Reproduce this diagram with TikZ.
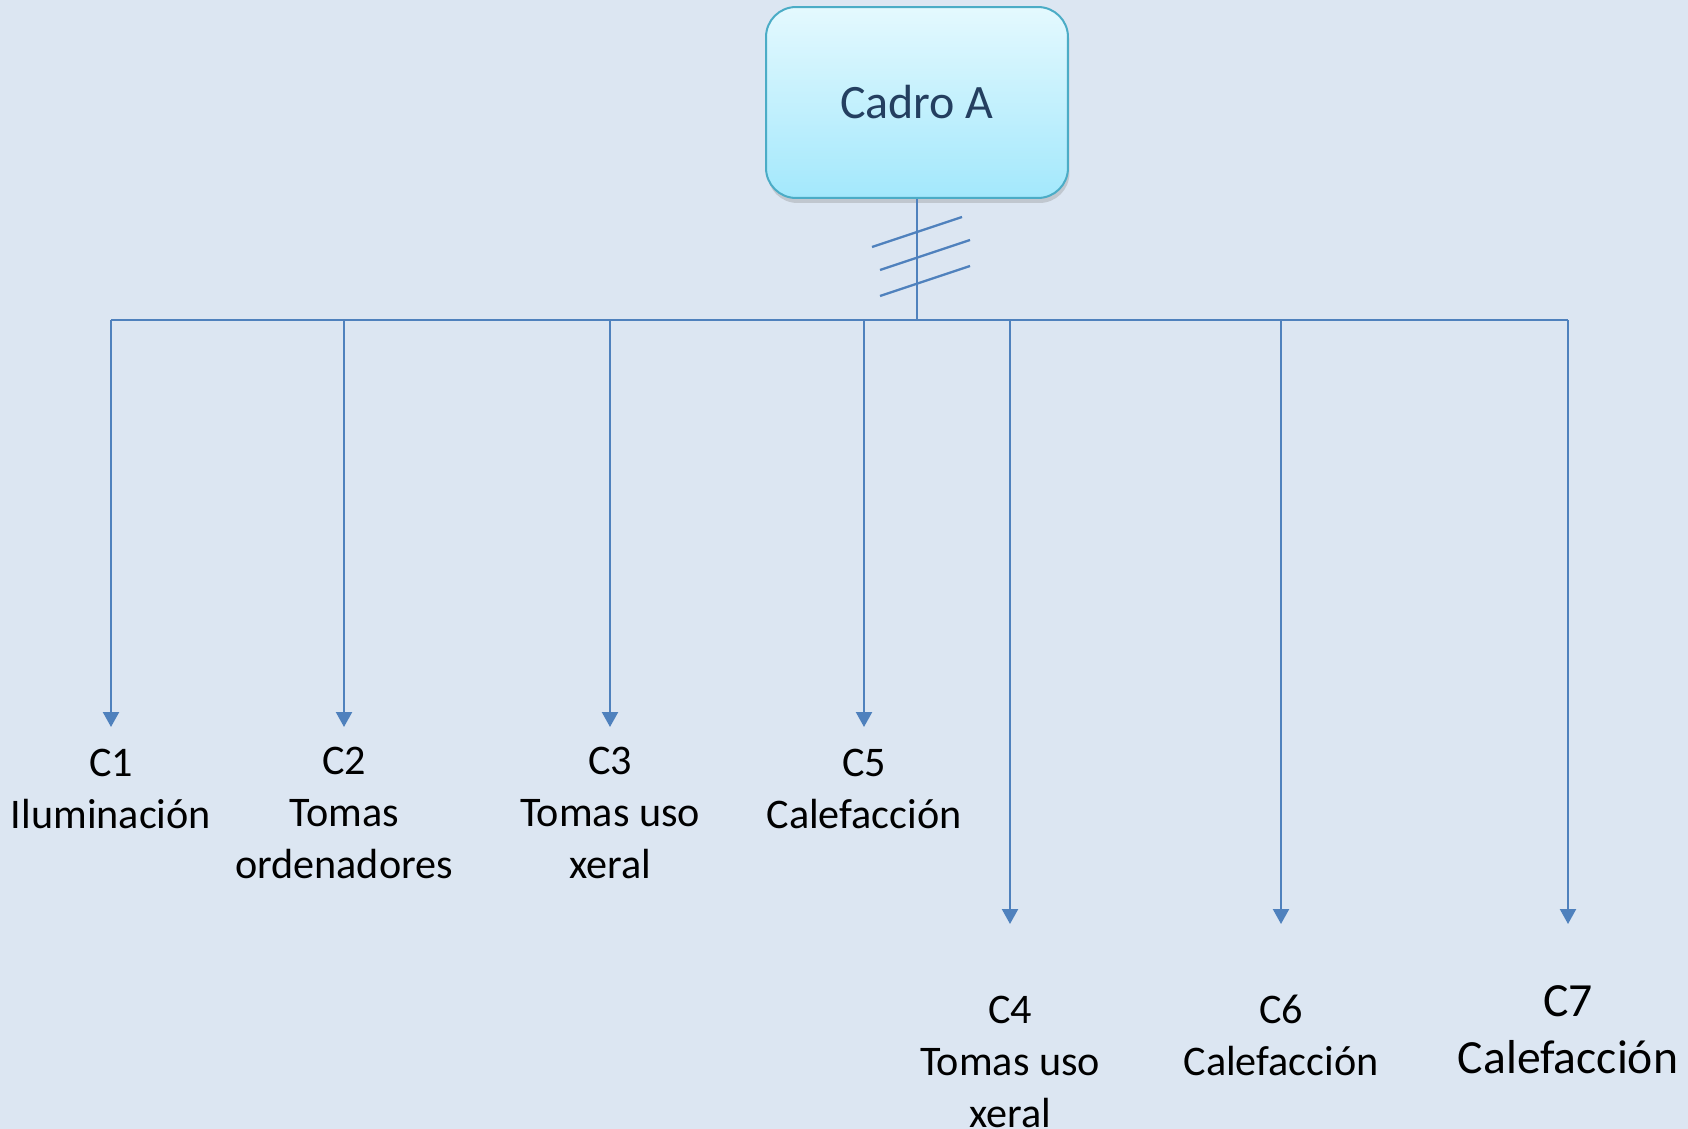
\documentclass[tikz,border=0pt]{standalone}
\usepackage{fontspec}
\setmainfont{Carlito}
\usetikzlibrary{arrows.meta,shadows}
\definecolor{fondo}{HTML}{DCE6F2}
\definecolor{linea}{HTML}{4F81BD}
\definecolor{bordo}{HTML}{4BACC6}
\definecolor{ceo}{HTML}{E4F9FE}
\definecolor{auga}{HTML}{A3E8FC}
\definecolor{texto}{HTML}{243F60}

\begin{document}
\begin{tikzpicture}[x=0.02cm, y=-0.02cm, >={Triangle[length=0.3cm,width=0.32cm]},
    feed/.style={draw=linea, line width=0.045cm},
    lbl/.style={align=center, anchor=base, inner sep=0pt, font=\fontsize{24}{29.4}\selectfont},
    cadro/.style={draw=bordo, line width=0.04cm, rounded corners=0.6cm,
        top color=ceo, bottom color=auga, minimum width=6.04cm, minimum height=3.82cm,
        text=texto, font=\fontsize{27.3}{33}\selectfont,
        drop shadow={opacity=0.3, shadow xshift=0.03cm, shadow yshift=-0.1cm}}]
    \fill[fondo] (0,0) rectangle (1688,1129);
    \useasboundingbox (0,0) rectangle (1688,1129);
    \node[cadro] (cadro) at (917,102.5) {Cadro A};
    \coordinate (bus) at (917,320);
    \coordinate (tipA) at (0,727);
    \coordinate (tipB) at (0,924);
    % labels, placed by the baseline of their last line
    \node[lbl] (c1) at (111,828) {C1\\Iluminación};
    \node[lbl] (c2) at (344,878) {C2\\Tomas\\ordenadores};
    \node[lbl] (c3) at (610,878) {C3\\Tomas uso\\xeral};
    \node[lbl] (c5) at (864,828) {C5\\Calefacción};
    \node[lbl] (c4) at (1010,1127) {C4\\Tomas uso\\xeral};
    \node[lbl] (c6) at (1281,1075) {C6\\Calefacción};
    \node[lbl, font=\fontsize{27.1}{32.4}\selectfont] (c7) at (1568,1073) {C7\\Calefacción};
    % feed and bus
    \draw[feed] (cadro.south) -- (bus);
    \draw[feed] (c1 |- bus) -- (c7 |- bus);
    \draw[feed] (872,247) -- (962,217);
    \draw[feed] (880,270) -- (970,240);
    \draw[feed] (880,296) -- (970,266);
    % branches
    \foreach \c in {c1,c2,c3,c5}
        \draw[feed,->] (\c |- bus) -- (\c |- tipA);
    \foreach \c in {c4,c6,c7}
        \draw[feed,->] (\c |- bus) -- (\c |- tipB);
\end{tikzpicture}
\end{document}
